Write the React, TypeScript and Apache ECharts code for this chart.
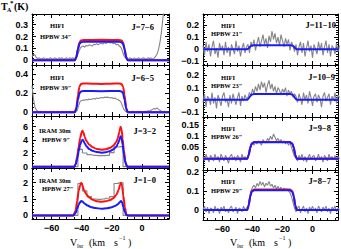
import React, { useEffect, useRef } from "react";
import * as echarts from "echarts";

// ---------- data ----------
// HIFI channel velocities (km/s) and IRAM 30m channel velocities
const VEL = Array.from({ length: 92 }, (_, i) => -73 + i);
const IRAM_VEL = Array.from({ length: 30 }, (_, i) => -71 + 3 * i);

const X_MAJOR = [-60, -40, -20, 0];
const X_MINOR = [-70, -65, -55, -50, -45, -35, -30, -25, -15, -10, -5, 5, 10, 15];

// observed spectra (grey)
const OBS_76 = [
  0.03, 0.05, 0.045, 0.02, 0.015, 0.02, 0.01, 0.015, 0.02, 0.01, 0.015, 0.01, 0.02, 0.015, 0.01, 0.02, 0.015, 0.01, 0.02, 0.015, 0.02, 0.01, 0.015, 0.02, 0.01, 0.02, 0.015, 0.02, 0.015, 0.02,
  0.03, 0.07, 0.1, 0.115, 0.12, 0.11, 0.125, 0.12, 0.13, 0.125, 0.12, 0.135, 0.13, 0.14, 0.13, 0.14, 0.145, 0.135, 0.15, 0.14, 0.15, 0.155, 0.145, 0.15, 0.14, 0.145, 0.13, 0.135, 0.12, 0.11, 0.08, 0.04,
  0.02, 0.015, 0.01, 0.02, 0.015, 0.01, 0.02, 0.01, 0.015, 0.02, 0.01, 0.015, 0.02, 0.015, 0.01, 0.02, 0.015, 0.02, 0.01, 0.015, 0.03, 0.05, 0.09, 0.15, 0.24, 0.36, 0.48, 0.6, 0.7, 0.8,
];
const OBS_65 = [
  0.28, 0.14, 0.05, 0.02, 0.01, 0.005, 0.01, 0.0, 0.005, 0.01, 0.005, 0.0, 0.01, 0.005, 0.01, 0.0, 0.005, 0.01, 0.005, 0.0, 0.01, 0.005, 0.0, 0.01, 0.005, 0.01, 0.0, 0.005, 0.01, 0.005,
  0.02, 0.07, 0.115, 0.125, 0.13, 0.128, 0.135, 0.13, 0.14, 0.135, 0.14, 0.145, 0.14, 0.15, 0.145, 0.15, 0.155, 0.15, 0.16, 0.155, 0.16, 0.155, 0.15, 0.155, 0.145, 0.15, 0.14, 0.135, 0.125, 0.11, 0.07, 0.03,
  0.01, 0.005, 0.01, 0.0, 0.005, 0.01, 0.005, 0.0, 0.01, 0.005, 0.01, 0.005, 0.0, 0.01, 0.005, 0.015, 0.01, 0.02, 0.03, 0.04, 0.035, 0.045, 0.03, 0.02, 0.01, 0.005, 0.01, 0.0, 0.005, 0.01,
];
const OBS_32 = [
  0, 0, 0, 0, 0, 0, 0, 0, 0, 0,
  2.6, 2.05, 1.8, 1.7, 1.65, 1.65, 1.7, 2.1, 2.95, 3.0,
  0, 0, 0, 0, 0, 0, 0, 0, 0, 0,
];
const OBS_10 = [
  0, 0, 0, 0, 0, 0, 0, 0, 0, 0,
  1.95, 1.5, 1.15, 1.0, 0.98, 1.0, 1.05, 1.15, 1.95, 2.0,
  0, 0, 0, 0, 0, 0, 0, 0, 0, 0,
];
const OBS_1110 = [
  0.03, -0.05, 0.06, -0.02, 0.04, -0.06, 0.02, 0.07, -0.04, 0.01, -0.07, 0.05, -0.01, 0.03, -0.05, 0.06, -0.03, 0.02, -0.06, 0.04, 0.0, -0.04, 0.07, -0.02, 0.03, -0.06, 0.01, 0.05, -0.03, 0.02,
  0.04, -0.03, 0.06, 0.02, 0.08, -0.01, 0.05, 0.1, 0.02, 0.07, 0.12, 0.04, 0.09, 0.01, 0.11, 0.06, 0.15, 0.08, 0.13, 0.05, 0.1, 0.03, 0.12, 0.07, 0.02, 0.09, 0.04, 0.08, -0.01, 0.06, 0.03, -0.02,
  0.04, -0.05, 0.02, 0.06, -0.03, 0.05, -0.06, 0.01, 0.07, -0.02, 0.03, -0.07, 0.04, 0.0, -0.04, 0.06, -0.01, 0.05, -0.05, 0.02, 0.07, -0.03, 0.04, -0.06, 0.03, 0.01, -0.04, 0.05, -0.02, 0.03,
];
const OBS_109 = [
  -0.02, 0.05, -0.06, 0.03, 0.01, -0.04, 0.06, -0.03, 0.02, -0.07, 0.04, 0.0, -0.05, 0.03, 0.06, -0.02, 0.01, -0.06, 0.04, -0.03, 0.05, 0.0, -0.04, 0.02, 0.06, -0.05, 0.03, -0.01, 0.04, 0.01,
  0.02, 0.06, 0.03, 0.09, 0.05, 0.11, 0.07, 0.13, 0.08, 0.15, 0.1, 0.14, 0.06, 0.12, 0.16, 0.09, 0.13, 0.07, 0.11, 0.05, 0.1, 0.08, 0.04, 0.09, 0.06, 0.1, 0.03, 0.08, 0.05, 0.07, 0.02, 0.05,
  0.03, -0.02, 0.05, 0.01, -0.04, 0.06, 0.0, 0.04, -0.03, 0.07, 0.02, -0.05, 0.03, 0.05, -0.02, 0.04, 0.01, -0.06, 0.03, 0.06, -0.01, 0.02, 0.05, -0.04, 0.03, 0.0, 0.06, -0.03, 0.04, 0.02,
];
const OBS_98 = [
  0.01, -0.01, 0.02, 0.0, -0.015, 0.015, 0.005, -0.01, 0.02, -0.005, 0.01, -0.015, 0.02, 0.005, -0.01, 0.015, 0.0, -0.02, 0.01, 0.02, -0.005, 0.01, -0.01, 0.015, 0.005, -0.015, 0.02, 0.0, 0.01, -0.005,
  0.01, 0.03, 0.055, 0.07, 0.06, 0.075, 0.065, 0.08, 0.07, 0.06, 0.085, 0.075, 0.07, 0.09, 0.08, 0.1, 0.085, 0.11, 0.095, 0.08, 0.09, 0.075, 0.085, 0.07, 0.08, 0.065, 0.075, 0.06, 0.07, 0.05, 0.03, 0.01,
  0.005, -0.01, 0.015, 0.0, 0.02, -0.01, 0.01, -0.015, 0.005, 0.02, -0.005, 0.01, 0.015, -0.01, 0.0, 0.02, -0.005, 0.01, -0.015, 0.015, 0.005, -0.01, 0.02, 0.0, 0.01, -0.005, 0.015, -0.01, 0.01, 0.0,
];
const OBS_87 = [
  0.0, 0.02, -0.01, 0.015, -0.02, 0.01, 0.005, -0.015, 0.02, -0.005, 0.01, -0.02, 0.015, 0.0, 0.02, -0.01, 0.005, -0.015, 0.01, 0.02, -0.01, 0.0, 0.015, -0.02, 0.01, 0.005, -0.01, 0.02, 0.0, 0.01,
  0.02, 0.06, 0.1, 0.12, 0.13, 0.115, 0.14, 0.125, 0.15, 0.13, 0.145, 0.12, 0.14, 0.13, 0.15, 0.125, 0.135, 0.115, 0.13, 0.11, 0.125, 0.105, 0.12, 0.1, 0.115, 0.105, 0.11, 0.1, 0.09, 0.07, 0.04, 0.01,
  -0.01, 0.01, 0.02, -0.015, 0.005, 0.02, -0.01, 0.01, -0.02, 0.015, 0.0, 0.02, -0.005, 0.01, -0.015, 0.02, 0.005, -0.01, 0.015, 0.0, 0.02, -0.01, 0.01, -0.02, 0.015, 0.005, 0.02, -0.01, 0.01, 0.0,
];

// model profiles [velocity, T]
const RED_76 = [[-73, 0], [-44.5, 0], [-43.5, 0.03], [-42.5, 0.1], [-41.5, 0.15], [-40.5, 0.166], [-39, 0.17], [-27, 0.172], [-15, 0.17], [-13.5, 0.166], [-12.5, 0.15], [-11.5, 0.1], [-10.5, 0.03], [-9.5, 0], [18, 0]];
const BLUE_76 = [[-73, 0], [-44.5, 0], [-43.5, 0.028], [-42.5, 0.09], [-41.5, 0.137], [-40.5, 0.151], [-39, 0.155], [-27, 0.156], [-15, 0.155], [-13.5, 0.151], [-12.5, 0.137], [-11.5, 0.09], [-10.5, 0.028], [-9.5, 0], [18, 0]];
const RED_65 = [[-73, 0], [-44.5, 0], [-43.5, 0.05], [-42.5, 0.18], [-41.5, 0.27], [-40.5, 0.298], [-39, 0.305], [-33, 0.302], [-27, 0.3], [-21, 0.302], [-15, 0.305], [-13.5, 0.298], [-12.5, 0.27], [-11.5, 0.18], [-10.5, 0.05], [-9.5, 0], [18, 0]];
const BLUE_65 = [[-73, 0], [-44.5, 0], [-43.5, 0.04], [-42.5, 0.13], [-41.5, 0.2], [-40.5, 0.22], [-39, 0.225], [-27, 0.223], [-15, 0.225], [-13.5, 0.22], [-12.5, 0.2], [-11.5, 0.13], [-10.5, 0.04], [-9.5, 0], [18, 0]];
const RED_32 = [[-73, 0], [-45, 0], [-44, 0.4], [-43, 1.5], [-42, 3.0], [-41, 4.3], [-40, 5.2], [-39.5, 5.4], [-39, 5.2], [-38, 4.5], [-37, 3.9], [-35, 3.3], [-33, 2.95], [-30, 2.65], [-27, 2.55], [-24, 2.6], [-21, 2.85], [-19, 3.15], [-17, 3.7], [-16, 4.3], [-15, 5.2], [-14.2, 6.0], [-13.5, 5.6], [-12.8, 4.2], [-12, 2.5], [-11, 0.8], [-10, 0.1], [-9.5, 0], [18, 0]];
const BLUE_32 = [[-73, 0], [-45, 0], [-44, 0.3], [-43, 1.2], [-42, 2.3], [-41, 3.3], [-40, 3.9], [-39.5, 4.05], [-39, 3.95], [-38, 3.5], [-37, 3.1], [-35, 2.65], [-33, 2.4], [-30, 2.2], [-27, 2.1], [-24, 2.15], [-21, 2.35], [-19, 2.6], [-17, 3.0], [-16, 3.4], [-15, 4.0], [-14.2, 4.55], [-13.5, 4.3], [-12.8, 3.3], [-12, 1.9], [-11, 0.6], [-10, 0.08], [-9.5, 0], [18, 0]];
const RED_10 = [[-73, 0], [-45.5, 0], [-44, 0.3], [-43, 0.9], [-42, 1.5], [-41, 1.85], [-40.3, 2.0], [-39.5, 1.85], [-38.5, 1.55], [-37, 1.3], [-35, 1.1], [-33, 0.97], [-30, 0.87], [-27, 0.83], [-24, 0.86], [-21, 0.95], [-19, 1.05], [-17, 1.25], [-15.5, 1.55], [-14.6, 1.85], [-13.9, 2.0], [-13.2, 1.8], [-12.3, 1.2], [-11.3, 0.5], [-10.3, 0.05], [-9.5, 0], [18, 0]];
const BLUE_10 = [[-73, 0], [-45.5, 0], [-44, 0.15], [-43, 0.4], [-42, 0.65], [-41, 0.82], [-40.3, 0.88], [-39.5, 0.85], [-38, 0.72], [-36, 0.6], [-34, 0.52], [-31, 0.45], [-27, 0.41], [-23, 0.44], [-20, 0.5], [-18, 0.57], [-16, 0.68], [-14.6, 0.82], [-13.9, 0.88], [-13.2, 0.8], [-12.3, 0.5], [-11.3, 0.2], [-10.3, 0.02], [-9.5, 0], [18, 0]];
const BLUE_1110 = [[-73, 0], [-43.5, 0], [-42.5, 0.008], [-41.5, 0.022], [-40.5, 0.03], [-39, 0.033], [-15, 0.033], [-13.5, 0.03], [-12.5, 0.022], [-11.5, 0.008], [-10.5, 0], [18, 0]];
const BLUE_109 = [[-73, 0], [-43.5, 0], [-42.5, 0.012], [-41.5, 0.032], [-40.5, 0.043], [-39, 0.047], [-15, 0.047], [-13.5, 0.043], [-12.5, 0.032], [-11.5, 0.012], [-10.5, 0], [18, 0]];
const RED_98 = [[-73, 0], [-43.5, 0], [-42.5, 0.018], [-41.5, 0.05], [-40.5, 0.068], [-39, 0.074], [-15, 0.074], [-13.5, 0.068], [-12.5, 0.05], [-11.5, 0.018], [-10.5, 0], [18, 0]];
const BLUE_98 = [[-73, 0], [-43.5, 0], [-42.5, 0.017], [-41.5, 0.049], [-40.5, 0.067], [-39, 0.073], [-15, 0.073], [-13.5, 0.067], [-12.5, 0.049], [-11.5, 0.017], [-10.5, 0], [18, 0]];
const RED_87 = [[-73, 0], [-43.5, 0], [-42.5, 0.025], [-41.5, 0.075], [-40.5, 0.1], [-39, 0.108], [-15, 0.108], [-13.5, 0.1], [-12.5, 0.075], [-11.5, 0.025], [-10.5, 0], [18, 0]];
const BLUE_87 = [[-73, 0], [-43.5, 0], [-42.5, 0.023], [-41.5, 0.071], [-40.5, 0.096], [-39, 0.104], [-15, 0.104], [-13.5, 0.096], [-12.5, 0.071], [-11.5, 0.023], [-10.5, 0], [18, 0]];

// y-axis major tick labels per panel
const Y_TICKS_76 = [0, 0.1, 0.2, 0.3];
const Y_TICKS_65 = [0, 0.2, 0.4];
const Y_TICKS_32 = [0, 2, 4, 6];
const Y_TICKS_10 = [0, 1, 2];
const Y_TICKS_1110 = [-0.1, 0, 0.1, 0.2];
const Y_TICKS_109 = [-0.1, 0, 0.1, 0.2];
const Y_TICKS_98 = [0, 0.05, 0.1, 0.15];
const Y_TICKS_87 = [0, 0.1, 0.2];

// ---------- layout ----------
const RED = "#ff1010";
const BLUE = "#1a1aff";
const GREY = "#858585";
const MINUS = "\u2212";
const fmt = (v: number) => (v < 0 ? MINUS + String(Math.abs(v)) : String(v));

function minorTicks(min: number, max: number, step: number, major: number[]) {
  const out: number[] = [];
  const s = Math.ceil(min / step - 1e-9);
  const e = Math.floor(max / step + 1e-9);
  for (let k = s; k <= e; k++) {
    const v = Math.round(k * step * 100000) / 100000;
    if (!major.some((m) => Math.abs(m - v) < 1e-9)) out.push(v);
  }
  return out;
}

type Panel = {
  left: number; top: number; width: number; height: number;
  xmax: number; ymin: number; ymax: number; yMajor: number[]; yStep: number;
  obsX: number[]; obs: number[]; step: boolean;
  red?: number[][]; blue: number[][]; xLabels: boolean;
};

const PANELS: Panel[] = [
  { left: 32, top: 14, width: 137, height: 51, xmax: 18, ymin: -0.04, ymax: 0.39, yMajor: Y_TICKS_76, yStep: 0.02, obsX: VEL, obs: OBS_76, step: false, red: RED_76, blue: BLUE_76, xLabels: false },
  { left: 32, top: 65, width: 137, height: 51, xmax: 18, ymin: -0.04, ymax: 0.5, yMajor: Y_TICKS_65, yStep: 0.05, obsX: VEL, obs: OBS_65, step: false, red: RED_65, blue: BLUE_65, xLabels: false },
  { left: 32, top: 116, width: 137, height: 52, xmax: 18, ymin: -0.2, ymax: 7.6, yMajor: Y_TICKS_32, yStep: 0.5, obsX: IRAM_VEL, obs: OBS_32, step: true, red: RED_32, blue: BLUE_32, xLabels: false },
  { left: 32, top: 168, width: 137, height: 51, xmax: 18, ymin: -0.22, ymax: 2.9, yMajor: Y_TICKS_10, yStep: 0.2, obsX: IRAM_VEL, obs: OBS_10, step: true, red: RED_10, blue: BLUE_10, xLabels: true },
  { left: 203, top: 14, width: 135, height: 51, xmax: 17, ymin: -0.13, ymax: 0.29, yMajor: Y_TICKS_1110, yStep: 0.02, obsX: VEL, obs: OBS_1110, step: false, blue: BLUE_1110, xLabels: false },
  { left: 203, top: 65, width: 135, height: 52, xmax: 17, ymin: -0.14, ymax: 0.285, yMajor: Y_TICKS_109, yStep: 0.02, obsX: VEL, obs: OBS_109, step: false, blue: BLUE_109, xLabels: false },
  { left: 203, top: 117, width: 135, height: 53, xmax: 17, ymin: -0.05, ymax: 0.185, yMajor: Y_TICKS_98, yStep: 0.01, obsX: VEL, obs: OBS_98, step: false, red: RED_98, blue: BLUE_98, xLabels: false },
  { left: 203, top: 170, width: 135, height: 50, xmax: 17, ymin: -0.053, ymax: 0.21, yMajor: Y_TICKS_87, yStep: 0.02, obsX: VEL, obs: OBS_87, step: false, red: RED_87, blue: BLUE_87, xLabels: true },
];

const SMALL = 'bold 6.5px "Liberation Serif"';
const JFONT = 'bold 8.5px "Liberation Serif"';
const TEXTS: { t: string; x: number; y: number; font: string; align?: string }[] = [
  { t: "HIFI", x: 50, y: 25, font: SMALL }, { t: "HPBW 34\u2033", x: 40, y: 36, font: SMALL }, { t: "J=7" + MINUS + "6", x: 154, y: 27, font: JFONT, align: "right" },
  { t: "HIFI", x: 50, y: 77, font: SMALL }, { t: "HPBW 39\u2033", x: 40, y: 87, font: SMALL }, { t: "J=6" + MINUS + "5", x: 154, y: 78, font: JFONT, align: "right" },
  { t: "IRAM 30m", x: 39, y: 130, font: SMALL }, { t: "HPBW 9\u2033", x: 42, y: 139, font: SMALL }, { t: "J=3" + MINUS + "2", x: 156, y: 131, font: JFONT, align: "right" },
  { t: "IRAM 30m", x: 39, y: 180, font: SMALL }, { t: "HPBW 27\u2033", x: 42, y: 188, font: SMALL }, { t: "J=1" + MINUS + "0", x: 156, y: 180, font: JFONT, align: "right" },
  { t: "HIFI", x: 221, y: 25, font: SMALL }, { t: "HPBW 21\u2033", x: 211, y: 33, font: SMALL }, { t: "J=11" + MINUS + "10", x: 336, y: 25, font: JFONT, align: "right" },
  { t: "HIFI", x: 221, y: 77, font: SMALL }, { t: "HPBW 23\u2033", x: 211, y: 85, font: SMALL }, { t: "J=10" + MINUS + "9", x: 335, y: 77, font: JFONT, align: "right" },
  { t: "HIFI", x: 221, y: 128, font: SMALL }, { t: "HPBW 26\u2033", x: 211, y: 136, font: SMALL }, { t: "J=9" + MINUS + "8", x: 331, y: 128, font: JFONT, align: "right" },
  { t: "HIFI", x: 221, y: 181, font: SMALL }, { t: "HPBW 29\u2033", x: 211, y: 190, font: SMALL }, { t: "J=8" + MINUS + "7", x: 331, y: 181, font: JFONT, align: "right" },
];

function buildOption() {
  const grid: any[] = [];
  const xAxis: any[] = [];
  const yAxis: any[] = [];
  const series: any[] = [];
  const tickFont = { fontFamily: "Liberation Sans", fontSize: 9, fontWeight: "bold", color: "#000" };

  PANELS.forEach((p, k) => {
    grid.push({ left: p.left, top: p.top, width: p.width, height: p.height, containLabel: false });
    const xmin = -73;
    const xMinor = X_MINOR.filter((v) => v < p.xmax);
    const yMinor = minorTicks(p.ymin, p.ymax, p.yStep, p.yMajor);
    const baseX = {
      type: "value", gridIndex: k, min: xmin, max: p.xmax, splitLine: { show: false },
    };
    const line = { show: true, onZero: false, lineStyle: { color: "#000", width: 1 } };
    const noLine = { show: false, onZero: false };
    xAxis.push({ ...baseX, position: "bottom", axisLine: line,
      axisTick: { show: true, inside: true, length: 4, customValues: X_MAJOR, lineStyle: { color: "#000" } },
      axisLabel: { show: p.xLabels, customValues: X_MAJOR, formatter: fmt, margin: 4, ...tickFont } });
    xAxis.push({ ...baseX, position: "top", axisLine: line,
      axisTick: { show: true, inside: true, length: 4, customValues: X_MAJOR, lineStyle: { color: "#000" } },
      axisLabel: { show: false } });
    xAxis.push({ ...baseX, position: "bottom", axisLine: noLine,
      axisTick: { show: true, inside: true, length: 2, customValues: xMinor, lineStyle: { color: "#000" } },
      axisLabel: { show: false } });
    xAxis.push({ ...baseX, position: "top", axisLine: noLine,
      axisTick: { show: true, inside: true, length: 2, customValues: xMinor, lineStyle: { color: "#000" } },
      axisLabel: { show: false } });

    const baseY = { type: "value", gridIndex: k, min: p.ymin, max: p.ymax, splitLine: { show: false } };
    yAxis.push({ ...baseY, position: "left", axisLine: line,
      axisTick: { show: true, inside: true, length: 4, customValues: p.yMajor, lineStyle: { color: "#000" } },
      axisLabel: { show: true, customValues: p.yMajor, formatter: fmt, margin: 4, ...tickFont } });
    yAxis.push({ ...baseY, position: "right", axisLine: line,
      axisTick: { show: true, inside: true, length: 4, customValues: p.yMajor, lineStyle: { color: "#000" } },
      axisLabel: { show: false } });
    yAxis.push({ ...baseY, position: "left", axisLine: noLine,
      axisTick: { show: true, inside: true, length: 2, customValues: yMinor, lineStyle: { color: "#000" } },
      axisLabel: { show: false } });
    yAxis.push({ ...baseY, position: "right", axisLine: noLine,
      axisTick: { show: true, inside: true, length: 2, customValues: yMinor, lineStyle: { color: "#000" } },
      axisLabel: { show: false } });

    const xi = 4 * k;
    const yi = 4 * k;
    series.push({
      type: "line", xAxisIndex: xi, yAxisIndex: yi, clip: true,
      data: p.obsX.map((v, i) => [v, p.obs[i]]),
      step: p.step ? "middle" : false, showSymbol: false, symbol: "none",
      lineStyle: { color: GREY, width: 1.1 }, z: 2,
    });
    if (p.red) {
      series.push({
        type: "line", xAxisIndex: xi, yAxisIndex: yi, clip: true, data: p.red,
        showSymbol: false, symbol: "none", smooth: 0.2, smoothMonotone: "x",
        lineStyle: { color: RED, width: 2 }, z: 3,
      });
    }
    series.push({
      type: "line", xAxisIndex: xi, yAxisIndex: yi, clip: true, data: p.blue,
      showSymbol: false, symbol: "none", smooth: 0.2, smoothMonotone: "x",
      lineStyle: { color: BLUE, width: 2 }, z: 4,
    });
  });

  const serif = '"Liberation Serif"';
  const graphic: any[] = TEXTS.map((t) => ({
    type: "text", x: t.x, y: t.y, z: 10,
    style: { text: t.t, font: t.font, fill: "#000", align: t.align || "left", verticalAlign: "middle" },
  }));
  // y title T_A^*(K)
  graphic.push(
    { type: "text", x: 1, y: 6, style: { text: "T", font: `bold 10px ${serif}`, fill: "#000", verticalAlign: "middle" } },
    { type: "text", x: 7, y: 10, style: { text: "A", font: `bold 6px ${serif}`, fill: "#000", verticalAlign: "middle" } },
    { type: "text", x: 10, y: 3, style: { text: "*", font: `bold 7px ${serif}`, fill: "#000", verticalAlign: "middle" } },
    { type: "text", x: 14, y: 6, style: { text: "(K)", font: `bold 10px ${serif}`, fill: "#000", verticalAlign: "middle" } },
  );
  // x titles
  [0, 160].forEach((dx) => {
    graphic.push(
      { type: "text", x: 70 + dx, y: 242, style: { text: "V", font: `10px ${serif}`, fill: "#000", verticalAlign: "middle" } },
      { type: "text", x: 77 + dx, y: 245, style: { text: "lsr", font: `6.5px ${serif}`, fill: "#000", verticalAlign: "middle" } },
      { type: "text", x: 89 + dx, y: 242, style: { text: "(km", font: `10px ${serif}`, fill: "#000", verticalAlign: "middle" } },
      { type: "text", x: 114 + dx, y: 242, style: { text: "s", font: `10px ${serif}`, fill: "#000", verticalAlign: "middle" } },
      { type: "text", x: 119 + dx, y: 238, style: { text: MINUS + "1", font: `6px ${serif}`, fill: "#000", verticalAlign: "middle" } },
      { type: "text", x: 128 + dx, y: 242, style: { text: ")", font: `10px ${serif}`, fill: "#000", verticalAlign: "middle" } },
    );
  });

  return {
    animation: false,
    backgroundColor: "#fff",
    grid, xAxis, yAxis, series, graphic,
  };
}

export default function App() {
  const ref = useRef<HTMLDivElement>(null);
  useEffect(() => {
    if (!ref.current) return;
    const chart = echarts.init(ref.current, null, { renderer: "svg" });
    chart.setOption(buildOption() as any);
    return () => chart.dispose();
  }, []);
  return (
    <div
      ref={ref}
      style={{ position: "absolute", left: 0, top: 0, width: 341, height: 249 }}
    />
  );
}
